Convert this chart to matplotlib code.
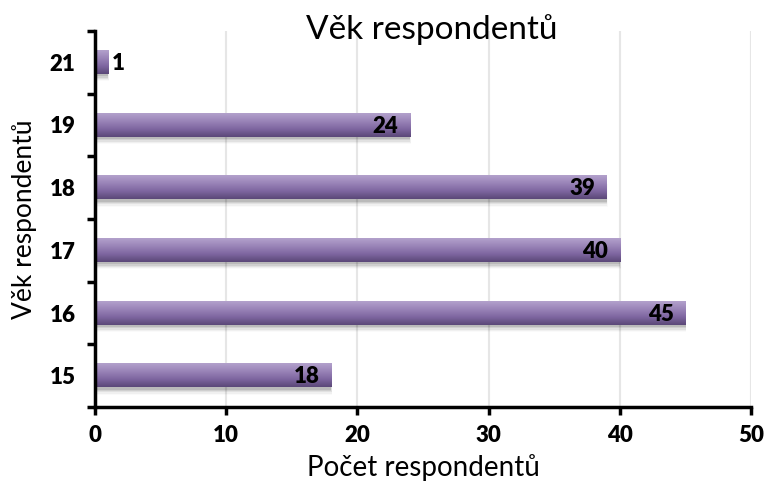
import numpy as np
import matplotlib.pyplot as plt
from matplotlib.colors import LinearSegmentedColormap
from matplotlib.patches import Rectangle

plt.rcParams['font.family'] = ['Lato', 'DejaVu Sans']

vek = ['15', '16', '17', '18', '19', '21']
pocet = [18, 45, 40, 39, 24, 1]

fig = plt.figure(figsize=(7.65, 4.84), dpi=100)
ax = fig.add_axes([0.124, 0.159, 0.858, 0.777])

# purple gradient, light on top, dark at the bottom
cmap = LinearSegmentedColormap.from_list('fialova', ['#5b4878', '#7e66a0', '#9a84b8', '#b3a1cc'])
grad = np.linspace(0, 1, 64).reshape(-1, 1)

h = 0.37
y = np.arange(len(vek))
for yi, v in zip(y, pocet):
    # soft shadow under the bar
    for k, a in enumerate([0.10, 0.08, 0.06, 0.04, 0.02]):
        d = 0.02 * (k + 1)
        ax.add_patch(Rectangle((0, yi - h / 2 - d - 0.02), v + d * 0.6, h,
                               facecolor='black', alpha=a, lw=0, zorder=1))
    ax.imshow(grad, cmap=cmap, extent=[0, v, yi - h / 2, yi + h / 2],
              aspect='auto', origin='lower', zorder=2, interpolation='bicubic')
    if v >= 10:
        ax.text(v - 0.9, yi - 0.02, str(v), ha='right', va='center',
                fontsize=16, fontweight='heavy', zorder=3)
    else:
        ax.text(v + 0.3, yi - 0.02, str(v), ha='left', va='center',
                fontsize=16, fontweight='heavy', zorder=3)

ax.set_xlim(0, 50)
ax.set_ylim(-0.5, len(vek) - 0.5)
ax.set_xticks(range(0, 51, 10))
ax.set_yticks(y)
ax.set_yticklabels(vek)
ax.set_yticks(np.arange(-0.5, len(vek), 1), minor=True)
ax.tick_params(axis='y', which='major', length=0, pad=14, labelsize=16)
ax.tick_params(axis='y', which='minor', length=6, width=2.5, direction='out')
ax.tick_params(axis='x', length=6, width=2.5, direction='out', labelsize=16, pad=7)
for lab in ax.get_xticklabels() + ax.get_yticklabels():
    lab.set_fontweight('heavy')

ax.grid(axis='x', color='#e6e6e6', lw=1.5, zorder=0)
ax.set_axisbelow(True)
for s in ['top', 'right']:
    ax.spines[s].set_visible(False)
for s in ['left', 'bottom']:
    ax.spines[s].set_linewidth(2.5)

ax.set_xlabel('Počet respondentů', fontsize=20)
ax.set_ylabel('Věk respondentů', fontsize=19)
ax.xaxis.set_label_coords(0.5, -0.125)
ax.yaxis.set_label_coords(-0.088, 0.5)
fig.text(0.565, 0.94, 'Věk respondentů', ha='center', va='center', fontsize=24)

fig.savefig('out.png', dpi=100)
